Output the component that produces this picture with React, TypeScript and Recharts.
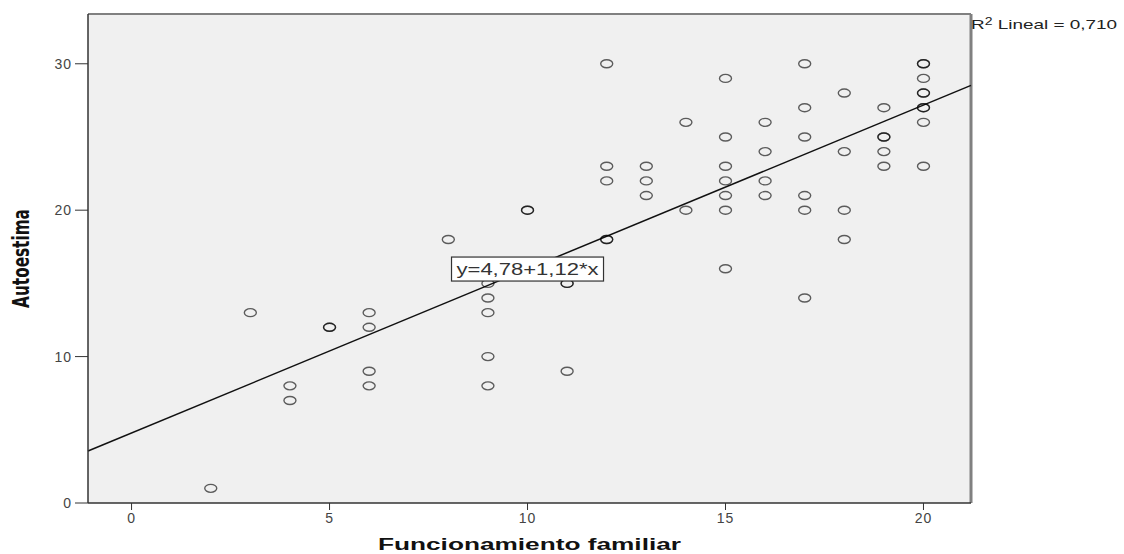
import {
  ScatterChart,
  Scatter,
  XAxis,
  YAxis,
  CartesianGrid,
  ReferenceLine,
  ReferenceDot,
} from "recharts";

// Funcionamiento familiar (x) / Autoestima (y), one entry per respondent
const famX = [
  2, 3, 4, 4, 5, 5, 6, 6, 6, 6, 8, 9, 9, 9, 9, 9, 10, 10, 11, 11, 11,
  12, 12, 12, 12, 12, 13, 13, 13, 14, 14, 15, 15, 15, 15, 15, 15, 15,
  16, 16, 16, 16, 17, 17, 17, 17, 17, 17, 18, 18, 18, 18,
  19, 19, 19, 19, 19, 20, 20, 20, 20, 20, 20, 20, 20, 20,
];
const autoY = [
  1, 13, 8, 7, 12, 12, 13, 12, 9, 8, 18, 15, 14, 13, 10, 8, 20, 20, 15, 15, 9,
  30, 23, 22, 18, 18, 23, 22, 21, 26, 20, 29, 25, 23, 22, 21, 20, 16,
  26, 24, 22, 21, 30, 27, 25, 21, 20, 14, 28, 24, 20, 18,
  27, 25, 25, 24, 23, 30, 30, 29, 28, 28, 27, 27, 26, 23,
];

const xTicks = [0, 5, 10, 15, 20];
const yTicks = [0, 10, 20, 30];
const xDomain = [-1.1, 21.2];
const yDomain = [0, 33.4];

// fit line as printed on the chart
const intercept = 4.78;
const slope = 1.12;
const fitLabel = "y=4,78+1,12*x";
const rSquared = "0,710";

const points = famX.map((x, i) => ({ x, y: autoY[i] }));
const fitSegment = xDomain.map((x) => ({ x, y: intercept + slope * x }));
const labelX = 10;

const Ring = (props: any) => (
  <ellipse
    cx={props.cx}
    cy={props.cy}
    rx={6}
    ry={4}
    fill="none"
    stroke="#000"
    strokeOpacity={0.62}
    strokeWidth={1.4}
  />
);

const FitBox = (props: any) => (
  <g>
    <rect x={props.cx - 76} y={props.cy - 12} width={152} height={24} fill="#fff" stroke="#333" strokeWidth={1.2} />
    <text
      x={props.cx - 71}
      y={props.cy + 6}
      fontSize={16}
      fontFamily="Liberation Sans, Arial, sans-serif"
      fill="#333"
      textLength={142}
      lengthAdjust="spacingAndGlyphs"
    >
      {fitLabel}
    </text>
  </g>
);

const tickStyle = { fontSize: 14, fill: "#444", fontFamily: "Liberation Sans, Arial, sans-serif", letterSpacing: 1 };

const YTitle = (props: any) => {
  const vb = props.viewBox;
  const cx = vb.x + 22;
  const cy = vb.y + vb.height / 2;
  return (
    <text
      transform={`translate(${cx},${cy}) rotate(-90) scale(1,1.3)`}
      textAnchor="middle"
      dominantBaseline="central"
      fontSize={17}
      fontWeight="bold"
      fontFamily="Liberation Sans Narrow, DejaVu Sans Condensed, Arial, sans-serif"
      fill="#111"
    >
      Autoestima
    </text>
  );
};

const XTitle = (props: any) => {
  const vb = props.viewBox;
  const cx = vb.x + vb.width / 2;
  return (
    <text
      x={cx}
      y={vb.y + 47}
      textAnchor="middle"
      fontSize={16}
      fontWeight="bold"
      fontFamily="Liberation Sans, Arial, sans-serif"
      fill="#111"
      textLength={303}
      lengthAdjust="spacingAndGlyphs"
    >
      Funcionamiento familiar
    </text>
  );
};

export default function App() {
  return (
    <div style={{ position: "absolute", left: 0, top: 0, width: 1124, height: 554, background: "#fff" }}>
      <ScatterChart width={1124} height={554} margin={{ top: 14, right: 153, left: 0, bottom: 0 }}>
        <CartesianGrid horizontal={false} vertical={false} fill="#f0f0f0" />
        <XAxis
          type="number"
          dataKey="x"
          domain={xDomain}
          ticks={xTicks}
          allowDataOverflow
          height={51}
          tickSize={7}
          tickMargin={3}
          tick={tickStyle}
          stroke="#333"
          axisLine={{ stroke: "#333", strokeWidth: 1.5 }}
          label={<XTitle />}
        />
        <YAxis
          type="number"
          dataKey="y"
          domain={yDomain}
          ticks={yTicks}
          allowDataOverflow
          width={88}
          tickSize={13}
          tickMargin={3}
          tick={tickStyle}
          stroke="#333"
          axisLine={{ stroke: "#333", strokeWidth: 1.5 }}
          label={<YTitle />}
        />
        <ReferenceLine y={yDomain[1]} stroke="#808080" strokeWidth={2} />
        <ReferenceLine x={xDomain[1]} stroke="#808080" strokeWidth={3} />
        <ReferenceLine segment={fitSegment} stroke="#111" strokeWidth={1.5} />
        <Scatter data={points} shape={<Ring />} isAnimationActive={false} />
        <ReferenceDot x={labelX} y={intercept + slope * labelX} shape={<FitBox />} />
      </ScatterChart>
      <div
        style={{
          position: "absolute",
          left: 971,
          top: 16,
          fontSize: 13.5,
          fontFamily: "Liberation Sans, Arial, sans-serif",
          color: "#222",
          whiteSpace: "nowrap",
          transform: "scaleX(1.4)",
          transformOrigin: "left top",
        }}
      >
        R<sup style={{ fontSize: 10, verticalAlign: "4px" }}>2</sup> Lineal = {rSquared}
      </div>
    </div>
  );
}
